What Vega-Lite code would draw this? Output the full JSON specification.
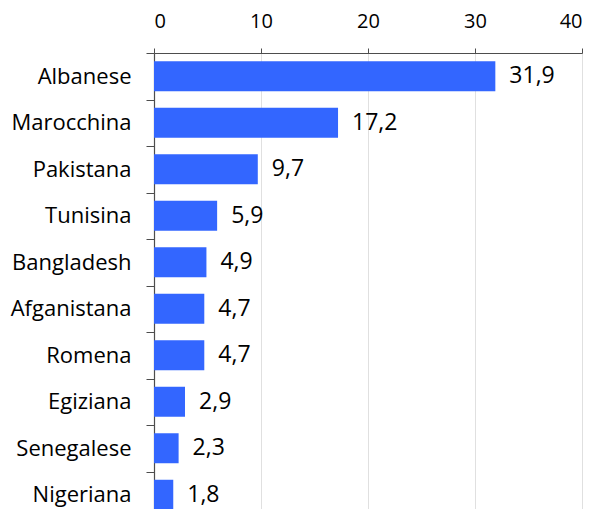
{
  "$schema": "https://vega.github.io/schema/vega-lite/v6.json",
  "autosize": {"type": "none"},
  "padding": {"left": 154, "top": 53, "right": 14, "bottom": 0},
  "width": 428,
  "height": 465,
  "data": {"values": [
    {"nazionalita": "Albanese", "valore": 31.9},
    {"nazionalita": "Marocchina", "valore": 17.2},
    {"nazionalita": "Pakistana", "valore": 9.7},
    {"nazionalita": "Tunisina", "valore": 5.9},
    {"nazionalita": "Bangladesh", "valore": 4.9},
    {"nazionalita": "Afganistana", "valore": 4.7},
    {"nazionalita": "Romena", "valore": 4.7},
    {"nazionalita": "Egiziana", "valore": 2.9},
    {"nazionalita": "Senegalese", "valore": 2.3},
    {"nazionalita": "Nigeriana", "valore": 1.8}
  ]},
  "encoding": {
    "y": {
      "field": "nazionalita", "type": "nominal", "sort": null, "title": null,
      "scale": {"paddingInner": 0.355, "paddingOuter": 0.1775},
      "axis": {
        "bandPosition": 0, "tickOffset": -8.25, "labelOffset": 8.25, "tickSize": 8, "labelPadding": 15,
        "labelFont": "Open Sans", "labelFontSize": 22, "labelColor": "#000000",
        "domainColor": "#4d4d4d", "tickColor": "#4d4d4d", "domainWidth": 1.2, "grid": false
      }
    },
    "x": {
      "field": "valore", "type": "quantitative", "title": null,
      "scale": {"domain": [0, 40], "nice": false},
      "axis": {
        "orient": "top", "values": [0, 10, 20, 30, 40], "tickSize": 5, "labelPadding": 17,
        "labelFont": "Open Sans", "labelFontSize": 20, "labelColor": "#000000",
        "domainColor": "#4d4d4d", "tickColor": "#4d4d4d", "domainWidth": 1.2,
        "grid": true, "gridColor": "#e0e0e0", "gridWidth": 1
      }
    }
  },
  "layer": [
    {"mark": {"type": "bar", "color": "#3366ff"}},
    {
      "mark": {"type": "text", "align": "left", "baseline": "middle", "dx": 14, "font": "Open Sans", "fontSize": 23, "color": "#000000"},
      "encoding": {"text": {"field": "valore", "type": "quantitative", "format": ".1f"}}
    }
  ],
  "config": {
    "view": {"stroke": null},
    "locale": {"number": {"decimal": ",", "thousands": ".", "grouping": [3], "currency": ["", " €"]}}
  }
}
